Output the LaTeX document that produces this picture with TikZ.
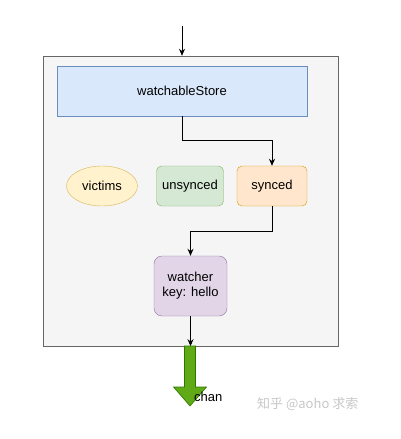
\documentclass[tikz,border=0pt]{standalone}
\usepackage{fontspec}
\setmainfont{Liberation Sans}
\newfontfamily\cjkfont{Noto Sans CJK SC}
\usepackage{tikz}
\usetikzlibrary{shapes.geometric,arrows.meta,positioning,calc}

\definecolor{boxgray}{HTML}{F5F5F5}
\definecolor{boxline}{HTML}{666666}
\definecolor{bluefill}{HTML}{DAE8FC}
\definecolor{blueline}{HTML}{6C8EBF}
\definecolor{yellowfill}{HTML}{FFF2CC}
\definecolor{yellowline}{HTML}{D6B656}
\definecolor{greenfill}{HTML}{D5E8D4}
\definecolor{greenline}{HTML}{82B366}
\definecolor{orangefill}{HTML}{FFE6CC}
\definecolor{orangeline}{HTML}{D79B00}
\definecolor{purplefill}{HTML}{E1D5E7}
\definecolor{purpleline}{HTML}{9673A6}
\definecolor{chanfill}{HTML}{60A917}
\definecolor{chanline}{HTML}{2D7600}

\begin{document}
\begin{tikzpicture}[x=1pt,y=-1pt,
    font=\fontsize{13}{15}\selectfont,
    statebox/.style={draw,rounded corners=5pt,minimum width=70pt,minimum height=40pt,inner sep=0pt},
    flow/.style={-{Stealth[length=7pt,width=6pt]},line width=0.9pt}]
  \useasboundingbox (0,0) rectangle (401,439);

  \node[draw=boxline,fill=boxgray,minimum width=295pt,minimum height=290pt,inner sep=0pt] (outer)
    at (190.5,201) {};
  \node[draw=blueline,fill=bluefill,minimum width=250pt,minimum height=50pt,inner sep=0pt] (store)
    at (182,91) {watchableStore};
  \node[draw=yellowline,fill=yellowfill,ellipse,minimum width=71pt,minimum height=40pt,inner sep=0pt] (victims)
    at (102,186) {victims};
  \node[statebox,draw=greenline,fill=greenfill,minimum width=67pt] (unsynced)
    at (190,186) {unsynced};
  \node[statebox,draw=orangeline,fill=orangefill] (synced)
    at (272,186) {synced};
  \node[statebox,draw=purpleline,fill=purplefill,minimum width=73pt,minimum height=60pt,
    rounded corners=8pt,align=center] (watcher)
    at (190.5,286) {watcher\\key: hello};

  \coordinate (in) at (182,26);
  \draw[flow] (in) -- (in |- outer.north);
  \draw[flow] (store.south) -- ++(0,24) -| (synced.north);
  \draw[flow] (synced.south) -- ++(0,25) -| (watcher.north);
  \draw[flow] (watcher.south) -- (watcher.south |- outer.south);

  % chan arrow
  \coordinate (chan) at (190,346);
  \filldraw[fill=chanfill,draw=chanline,line width=0.6pt]
    ($(chan)+(-5.5,0)$) -- ++(0,41) -- ++(-11,0) -- ($(chan)+(0,60)$)
    -- ($(chan)+(16.5,41)$) -- ++(-11,0) -- ($(chan)+(5.5,0)$) -- cycle;
  \node[anchor=west,inner sep=0pt] (chanlabel) at (194,397) {chan};

  \node[anchor=west,inner sep=0pt,text=black!22,font=\cjkfont\fontsize{13}{15}\selectfont] (mark)
    at (257,404) {知乎 @aoho 求索};
\end{tikzpicture}
\end{document}
